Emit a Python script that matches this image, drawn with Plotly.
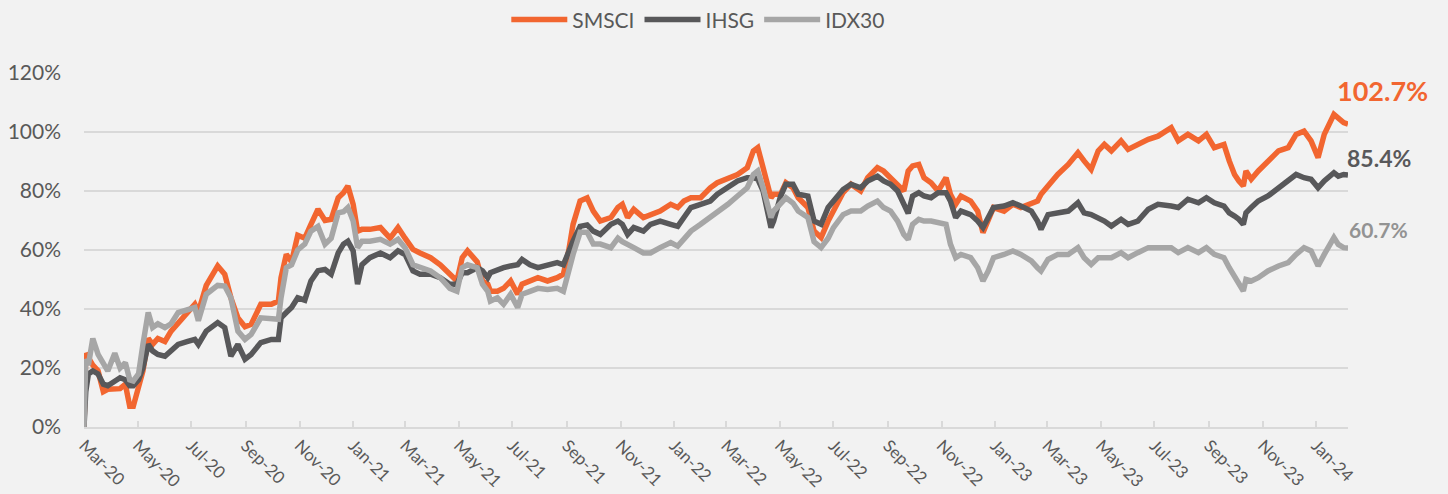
import plotly.graph_objects as go

dates = [
    "2020-03-01", "2020-03-03", "2020-03-06", "2020-03-11", "2020-03-17", "2020-03-23", "2020-03-28",
    "2020-04-05", "2020-04-11", "2020-04-17", "2020-04-22", "2020-04-26", "2020-05-02", "2020-05-07",
    "2020-05-13", "2020-05-18", "2020-05-24", "2020-06-01", "2020-06-08", "2020-06-16", "2020-06-27",
    "2020-07-05", "2020-07-09", "2020-07-18", "2020-07-31", "2020-08-08", "2020-08-15", "2020-08-23",
    "2020-08-31", "2020-09-07", "2020-09-18", "2020-09-30", "2020-10-08", "2020-10-11", "2020-10-17",
    "2020-10-23", "2020-10-30", "2020-11-07", "2020-11-14", "2020-11-22", "2020-11-30", "2020-12-07",
    "2020-12-15", "2020-12-21", "2020-12-26", "2021-01-01", "2021-01-06", "2021-01-11", "2021-01-20",
    "2021-02-01", "2021-02-12", "2021-02-21", "2021-03-01", "2021-03-10", "2021-03-18", "2021-03-30",
    "2021-04-10", "2021-04-21", "2021-04-29", "2021-05-05", "2021-05-11", "2021-05-22", "2021-05-28",
    "2021-06-03", "2021-06-06", "2021-06-14", "2021-06-21", "2021-06-29", "2021-07-07", "2021-07-12",
    "2021-07-21", "2021-07-30", "2021-08-10", "2021-08-21", "2021-08-28", "2021-09-03", "2021-09-08",
    "2021-09-16", "2021-09-24", "2021-10-01", "2021-10-09", "2021-10-21", "2021-10-29", "2021-11-03",
    "2021-11-09", "2021-11-16", "2021-11-27", "2021-12-05", "2021-12-16", "2021-12-28", "2022-01-05",
    "2022-01-12", "2022-01-20", "2022-01-31", "2022-02-11", "2022-02-19", "2022-03-03", "2022-03-14",
    "2022-03-25", "2022-04-01", "2022-04-06", "2022-04-12", "2022-04-17", "2022-04-21", "2022-04-24",
    "2022-05-02", "2022-05-08", "2022-05-16", "2022-05-22", "2022-06-02", "2022-06-09", "2022-06-17",
    "2022-06-25", "2022-07-01", "2022-07-12", "2022-07-21", "2022-08-01", "2022-08-09", "2022-08-20",
    "2022-08-27", "2022-09-04", "2022-09-12", "2022-09-19", "2022-09-24", "2022-09-29", "2022-10-06",
    "2022-10-12", "2022-10-20", "2022-10-28", "2022-11-06", "2022-11-11", "2022-11-17", "2022-11-23",
    "2022-12-04", "2022-12-12", "2022-12-18", "2022-12-24", "2022-12-30", "2023-01-11", "2023-01-21",
    "2023-01-30", "2023-02-11", "2023-02-18", "2023-02-22", "2023-03-02", "2023-03-13", "2023-03-25",
    "2023-04-05", "2023-04-12", "2023-04-20", "2023-04-28", "2023-05-05", "2023-05-13", "2023-05-24",
    "2023-06-01", "2023-06-12", "2023-06-24", "2023-07-05", "2023-07-20", "2023-07-28", "2023-08-08",
    "2023-08-20", "2023-08-29", "2023-09-07", "2023-09-18", "2023-09-24", "2023-09-30", "2023-10-05",
    "2023-10-10", "2023-10-13", "2023-10-19", "2023-10-27", "2023-11-07", "2023-11-19", "2023-11-30",
    "2023-12-09", "2023-12-18", "2023-12-26", "2024-01-03", "2024-01-10", "2024-01-21", "2024-01-26",
    "2024-02-01", "2024-02-06",
]

smsci = [
    0, 25, 23.5, 21, 19, 12, 12.8,
    13, 13, 14.5, 7, 7, 13, 19,
    30, 28, 30, 29, 32.5, 35, 38.8,
    41.6, 39, 48, 54.6, 51.8, 43.8, 37,
    34, 34.8, 41.6, 41.6, 42.7, 50.6, 58.5,
    56, 65, 64, 68.7, 73.8, 70, 70.4,
    77.7, 79.4, 81.7, 75.5, 66.4, 67, 67,
    67.6, 64, 67.6, 64, 60.2, 59, 57.4,
    55, 51.8, 49.5, 57.4, 59.7, 56, 49.5,
    48.4, 46, 46, 47, 49.5, 45, 48.4,
    49.5, 50.6, 49.5, 50.6, 51.8, 59.7, 68.7,
    76.6, 77.7, 73.2, 69.8, 71, 74.4, 75.5,
    71, 73.8, 71, 72, 73.2, 75.5, 74.4,
    76.6, 77.7, 77.7, 81.1, 82.8, 84.5, 85.6,
    87.9, 93.6, 94.7, 87.9, 82.3, 77.7, 78.9,
    78.9, 82.8, 81.1, 77.7, 74.4, 66.4, 64.2,
    69.8, 73.2, 79.5, 82.3, 80, 84.5, 87.9,
    86.8, 84.5, 82.3, 80, 86.8, 88.5, 89,
    84.5, 82.8, 80, 84.5, 78.9, 75.5, 78.3,
    76.6, 73.2, 65.9, 69.8, 74.4, 73.2, 75.5,
    74.4, 75.5, 76.6, 78.9, 81.7, 85.6, 89,
    93, 90.2, 87.3, 93.6, 95.8, 93.6, 97,
    94.1, 95.8, 97.5, 98.6, 101.5, 97, 99.2,
    97, 99.2, 94.7, 95.8, 90.2, 85.6, 83.4,
    81.7, 86.8, 84, 86.8, 90.2, 93.6, 94.7,
    99.2, 100.3, 97, 91.3, 99.2, 106, 104.9,
    103.2, 102.7,
]

ihsg = [
    0, 12, 18, 19, 18, 14.5, 14,
    15.6, 16.7, 16, 14, 14, 16, 20,
    28, 25.8, 24.6, 24, 25.8, 28, 29,
    29.7, 28, 32.5, 35.4, 33.7, 24, 28,
    23, 24.6, 28.6, 29.7, 29.7, 37, 38.8,
    40.5, 43.8, 43, 49.5, 53, 53.4, 51.8,
    59, 62, 63, 59.7, 48.4, 55, 57.4,
    59, 57.4, 59.7, 58.5, 52.9, 51.8, 51.8,
    50.6, 48.4, 48.4, 52.3, 52.3, 54, 52.9,
    50.6, 52.3, 53.4, 54, 54.6, 55, 56.8,
    55, 54, 55, 55.7, 55, 59.7, 63,
    68, 68.5, 66.4, 65.3, 68.7, 69.8, 68.7,
    65.3, 67.6, 66.4, 68.7, 69.8, 68.7, 68,
    71, 74.4, 75.5, 76.6, 78.9, 81.1, 83.4,
    84.5, 84.5, 84, 80, 73.2, 67.6, 69.8,
    78.3, 82.3, 82.3, 78.9, 78.3, 69.8, 68.7,
    74.4, 76.6, 80.5, 82.3, 81.1, 83.4, 85,
    83.4, 82.3, 80, 74.9, 72.4, 78.3, 79.4,
    78.3, 77.7, 79.4, 79.4, 76.6, 71, 73.2,
    72, 69.8, 67.6, 71, 74.4, 74.9, 76,
    74.9, 73.2, 69.8, 67, 72, 72.6, 73.2,
    76, 72.6, 72, 71, 69.8, 68.1, 70.4,
    68.7, 69.8, 73.8, 75.5, 74.9, 74.4, 77.2,
    76, 77.7, 76, 74.9, 72.6, 71.5, 70.4,
    68.7, 72.6, 74.4, 76.6, 78.3, 81.1, 83.4,
    85.6, 84.5, 84, 81.1, 83.4, 86.2, 85,
    85.6, 85.4,
]

idx30 = [
    0, 23, 21, 30, 24.6, 21, 19,
    25, 20, 21.8, 16, 15.6, 18, 28,
    38.8, 33.7, 35, 33.7, 35, 38.8, 40,
    40.5, 36, 45, 48, 47.8, 43.8, 32.5,
    29.7, 31.4, 37, 36.5, 36.5, 43.8, 54,
    55, 60, 62, 66.4, 68, 62, 64,
    72.6, 73, 74.4, 69.8, 60.8, 63, 63,
    63.6, 62, 63.6, 60.8, 55, 54, 52.9,
    50.6, 47, 46, 54, 55, 54, 48.4,
    46, 42.7, 43.8, 41.6, 45, 40.5, 45,
    46, 47, 46.6, 47, 46, 53, 58.5,
    66, 66, 62, 62, 60.8, 64, 62.8,
    62, 60.8, 59, 59, 60.8, 62.5, 61.3,
    64, 66.4, 68.7, 71, 73.2, 75.5, 78.3,
    81.1, 85.6, 86.8, 81.1, 75.5, 71, 73.2,
    75.5, 77.7, 75.9, 73.2, 71, 62.8, 60.8,
    64, 67.6, 72, 73.2, 73.2, 74.9, 76.6,
    74.4, 73.2, 69.8, 65.3, 63.6, 68.7, 70.4,
    69.8, 69.8, 69.2, 68.7, 62, 57.4, 58.5,
    57.4, 54, 49.5, 52.9, 57.4, 58.5, 59.7,
    58.5, 56.3, 54, 52.9, 56.8, 58.5, 58.5,
    60.8, 57.4, 55.1, 57.4, 57.4, 57.4, 59.1,
    57.4, 59.1, 60.8, 60.8, 60.8, 59.1, 60.8,
    59.1, 60.8, 58.5, 57.4, 54, 51.2, 48.4,
    46.1, 50, 49.5, 50.6, 52.9, 54.6, 55.7,
    58.5, 60.8, 59.7, 54.6, 58.5, 64.2, 61.9,
    60.8, 60.7,
]

series_names = ["SMSCI", "IHSG", "IDX30"]
end_labels = ["102.7%", "85.4%", "60.7%"]

tick_dates = [
    "2020-03-01", "2020-05-01", "2020-07-01", "2020-09-01", "2020-11-01",
    "2021-01-01", "2021-03-01", "2021-05-01", "2021-07-01", "2021-09-01", "2021-11-01",
    "2022-01-01", "2022-03-01", "2022-05-01", "2022-07-01", "2022-09-01", "2022-11-01",
    "2023-01-01", "2023-03-01", "2023-05-01", "2023-07-01", "2023-09-01", "2023-11-01",
    "2024-01-01",
]
tick_labels = [
    "Mar-20", "May-20", "Jul-20", "Sep-20", "Nov-20",
    "Jan-21", "Mar-21", "May-21", "Jul-21", "Sep-21", "Nov-21",
    "Jan-22", "Mar-22", "May-22", "Jul-22", "Sep-22", "Nov-22",
    "Jan-23", "Mar-23", "May-23", "Jul-23", "Sep-23", "Nov-23",
    "Jan-24",
]
y_ticks = [0, 20, 40, 60, 80, 100, 120]
y_labels = ["0%", "20%", "40%", "60%", "80%", "100%", "120%"]

# styles
FONT = "Lato"
line_colors = ["#F26630", "#58585A", "#A6A6A6"]
label_colors = ["#F26630", "#58585A", "#939393"]
label_sizes = [27, 23, 21]
label_yshift = [34, 17, 18]
label_xshift = [-13, -3, -1]
AXIS_TEXT = "#595959"
GRID = "#D9D9D9"
BG = "#F2F2F2"

fig = go.Figure()
for name, vals, col in zip(series_names, [smsci, ihsg, idx30], line_colors):
    fig.add_trace(go.Scatter(
        x=dates, y=vals, mode="lines", name=name,
        line=dict(color=col, width=5.5),
        hoverinfo="skip",
    ))

for txt, vals, col, size, dy, dx in zip(end_labels, [smsci, ihsg, idx30], label_colors,
                                        label_sizes, label_yshift, label_xshift):
    fig.add_annotation(
        x=dates[-1], y=vals[-1], xref="x", yref="y",
        text=txt, showarrow=False, xanchor="left", yanchor="middle",
        xshift=dx, yshift=dy,
        font=dict(family=FONT, size=size, color=col, weight="bold"),
    )

fig.update_layout(
    width=1448, height=494,
    paper_bgcolor=BG, plot_bgcolor=BG,
    margin=dict(l=84, r=100, t=73, b=67, autoexpand=False),
    font=dict(family=FONT, color=AXIS_TEXT),
    showlegend=True,
    legend=dict(
        orientation="h", x=0.486, xanchor="center",
        yref="container", y=0.96, yanchor="middle",
        font=dict(family=FONT, size=21, color=AXIS_TEXT),
        bgcolor="rgba(0,0,0,0)", itemwidth=56,
    ),
    xaxis=dict(
        type="date", range=[dates[0], dates[-1]],
        tickmode="array", tickvals=tick_dates, ticktext=tick_labels,
        tickangle=45, tickfont=dict(family=FONT, size=17, color=AXIS_TEXT),
        showgrid=False, showline=True, linecolor=GRID, linewidth=2,
        ticks="inside", ticklen=6, tickcolor=GRID, tickwidth=1.5,
        ticklabelstandoff=0, automargin=False, zeroline=False,
    ),
    yaxis=dict(
        range=[0, 120], tickmode="array", tickvals=y_ticks, ticktext=y_labels,
        tickfont=dict(family=FONT, size=21, color=AXIS_TEXT),
        showgrid=True, gridcolor=GRID, gridwidth=1.8,
        zeroline=False, showline=False, ticks="",
        ticklabelstandoff=22, automargin=False,
    ),
)

fig.write_html(
    "out.html",
    config={"displayModeBar": False},
    post_script="document.body.style.margin='0';document.body.style.background='#F2F2F2';",
)
